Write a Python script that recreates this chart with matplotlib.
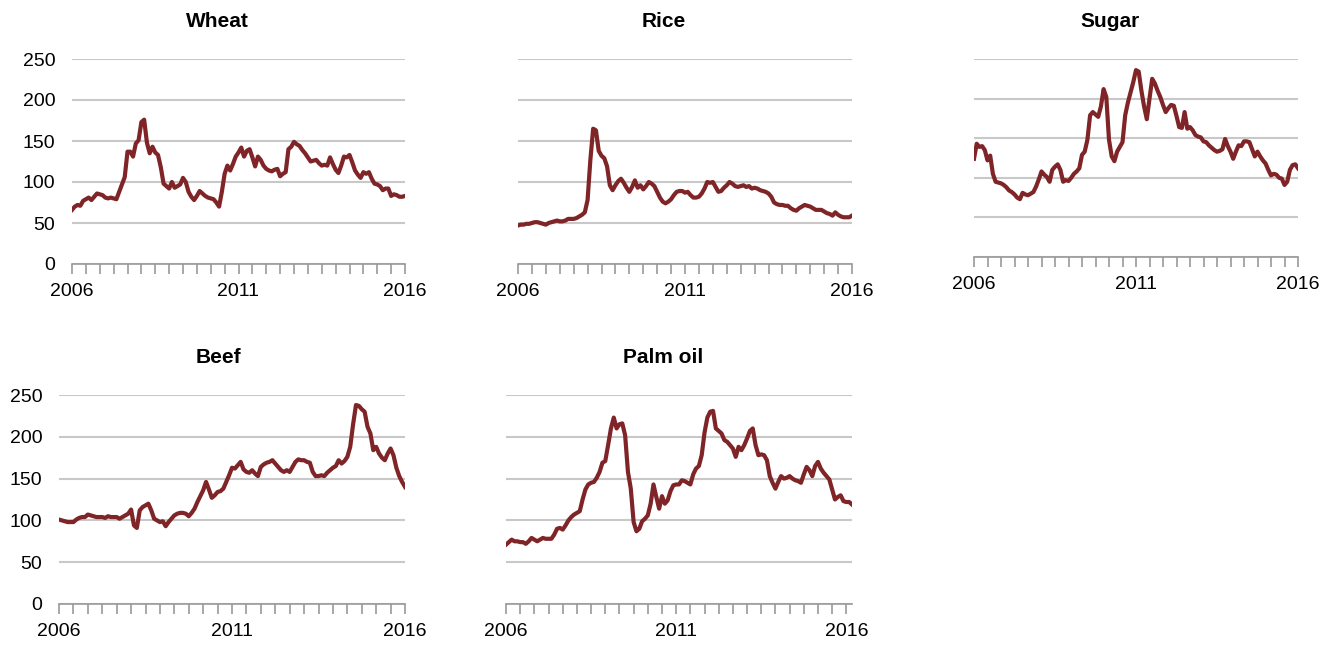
import numpy as np
import matplotlib
matplotlib.use("Agg")
import matplotlib.pyplot as plt

plt.rcParams['font.family'] = ['Liberation Sans', 'DejaVu Sans']

# monthly index values, Jan 2006 onwards
wheat = [66, 70, 72, 71, 77, 79, 81, 78, 82, 86, 85, 84, 81, 80, 81, 80, 79, 88, 97, 106,
         137, 137, 131, 147, 151, 173, 176, 148, 135, 143, 136, 133, 118, 98, 95, 92, 100, 93, 95, 97,
         105, 100, 88, 82, 78, 83, 89, 86, 83, 81, 80, 79, 75, 70, 88, 110, 120, 114, 122, 131,
         136, 142, 131, 138, 140, 130, 119, 131, 127, 120, 116, 114, 113, 115, 116, 107, 110, 112, 140, 143,
         149, 146, 144, 139, 135, 130, 125, 126, 127, 123, 120, 121, 120, 130, 122, 115, 111, 120, 131, 130,
         133, 124, 114, 109, 105, 112, 110, 112, 104, 98, 97, 95, 90, 92, 92, 83, 85, 84, 82, 82, 83]

rice = [47, 48, 48, 49, 49, 50, 51, 51, 50, 49, 48, 50, 51, 52, 53, 52, 52, 53, 55, 55,
        55, 56, 58, 60, 63, 78, 127, 165, 163, 138, 132, 129, 119, 96, 90, 96, 101, 104, 99, 93,
        88, 94, 102, 93, 96, 91, 95, 100, 98, 95, 88, 81, 76, 74, 76, 79, 84, 88, 89, 89,
        87, 88, 84, 81, 81, 82, 86, 92, 100, 99, 100, 94, 88, 89, 93, 96, 100, 98, 95, 94,
        95, 96, 94, 95, 92, 93, 92, 90, 89, 88, 86, 82, 75, 73, 72, 72, 71, 71, 68, 66,
        65, 68, 70, 72, 71, 70, 68, 66, 66, 66, 64, 62, 61, 59, 63, 60, 58, 57, 57, 57, 59]

sugar = [124, 143, 139, 140, 135, 122, 128, 105, 95, 94, 93, 91, 88, 84, 82, 79, 75, 73, 81, 79,
         78, 80, 82, 89, 98, 108, 104, 101, 95, 110, 114, 117, 110, 95, 97, 96, 100, 105, 108, 112,
         129, 133, 148, 179, 183, 180, 177, 190, 212, 202, 148, 127, 121, 133, 139, 145, 179, 195, 208, 221,
         236, 234, 210, 190, 174, 200, 225, 219, 210, 202, 192, 183, 188, 192, 191, 178, 164, 163, 183, 162,
         164, 160, 154, 152, 151, 146, 145, 141, 138, 135, 133, 134, 136, 149, 140, 133, 124, 133, 141, 140,
         146, 146, 145, 136, 127, 133, 127, 122, 118, 110, 103, 105, 104, 100, 99, 91, 95, 110, 116, 117, 112]

beef = [101, 100, 99, 98, 98, 98, 101, 103, 104, 104, 107, 106, 105, 104, 104, 104, 103, 105, 104, 104,
        104, 102, 104, 106, 108, 113, 94, 91, 112, 116, 118, 120, 112, 102, 100, 98, 99, 93, 98, 102,
        106, 108, 109, 109, 108, 105, 109, 114, 122, 129, 136, 146, 137, 127, 130, 134, 135, 138, 146, 154,
        163, 162, 166, 170, 161, 158, 157, 160, 156, 153, 164, 167, 169, 170, 172, 168, 164, 160, 158, 160,
        158, 164, 170, 173, 172, 172, 170, 169, 158, 153, 153, 154, 153, 157, 160, 163, 165, 172, 168, 171,
        176, 188, 215, 238, 237, 233, 230, 212, 204, 184, 188, 180, 175, 172, 180, 186, 178, 163, 153, 146, 140]

palm_oil = [71, 74, 77, 75, 75, 74, 74, 72, 75, 79, 77, 75, 77, 79, 78, 78, 78, 83, 90, 91,
            89, 94, 100, 104, 107, 109, 111, 125, 137, 143, 145, 146, 151, 158, 169, 171, 190, 210, 223, 210,
            215, 216, 202, 158, 138, 98, 87, 90, 99, 102, 106, 120, 143, 128, 114, 129, 120, 124, 135, 142,
            143, 143, 148, 147, 145, 143, 155, 162, 165, 178, 205, 223, 230, 231, 210, 207, 204, 196, 194, 190,
            186, 176, 188, 184, 190, 198, 207, 210, 190, 178, 179, 178, 172, 153, 145, 138, 146, 153, 150, 151,
            153, 150, 148, 147, 145, 155, 164, 160, 153, 165, 170, 162, 157, 153, 149, 137, 125, 128, 130, 123,
            122, 122, 119]

year_labels = ['2006', '2011', '2016']

line_color = '#7f2427'
grid_color = '#c8c8c8'
axis_color = '#9a9a9a'

W, H = 1329, 645
fig = plt.figure(figsize=(W / 100, H / 100), dpi=100)


def px_axes(x0, x1, ytop, ybot):
    return fig.add_axes([x0 / W, 1 - ybot / H, (x1 - x0) / W, (ybot - ytop) / H])


panels = [
    # name, series, axes box (px), show y labels, title pos (px)
    ('Wheat', wheat, (72, 405, 59, 264), True, (217, 27)),
    ('Rice', rice, (518, 852, 59, 264), False, (664, 27)),
    ('Sugar', sugar, (974, 1298, 59, 257), False, (1110, 27)),
    ('Beef', beef, (59, 405, 395, 604), True, (218, 363)),
    ('Palm oil', palm_oil, (506, 852, 395, 604), False, (663, 363)),
]

for name, vals, box, show_y, tpos in panels:
    ax = px_axes(*box)
    months = np.arange(len(vals))
    ax.plot(months, vals, color=line_color, lw=3.0, solid_joinstyle='round', zorder=3)
    ax.set_xlim(0, max(120, len(vals) - 1))
    ax.set_ylim(0, 250)

    ax.set_yticks([0, 50, 100, 150, 200, 250])
    ax.yaxis.grid(True, color=grid_color, lw=1.5)
    ax.set_axisbelow(True)
    if show_y:
        ax.tick_params(axis='y', length=0, pad=12, labelsize=14)
    else:
        ax.tick_params(axis='y', length=0, labelleft=False)

    ticks = list(range(0, 121, 5))
    ax.set_xticks(ticks)
    ax.set_xticklabels([year_labels[t // 60] if t % 60 == 0 else '' for t in ticks])
    ax.tick_params(axis='x', direction='out', length=7, width=1.2, color=axis_color,
                   pad=7, labelsize=14)

    for s in ['top', 'right', 'left']:
        ax.spines[s].set_visible(False)
    ax.spines['bottom'].set_color(axis_color)
    ax.spines['bottom'].set_linewidth(1.2)

    fig.text(tpos[0] / W, 1 - tpos[1] / H, name, ha='center', va='baseline',
             fontsize=15, fontweight='bold')

fig.savefig('out.png', dpi=100)
